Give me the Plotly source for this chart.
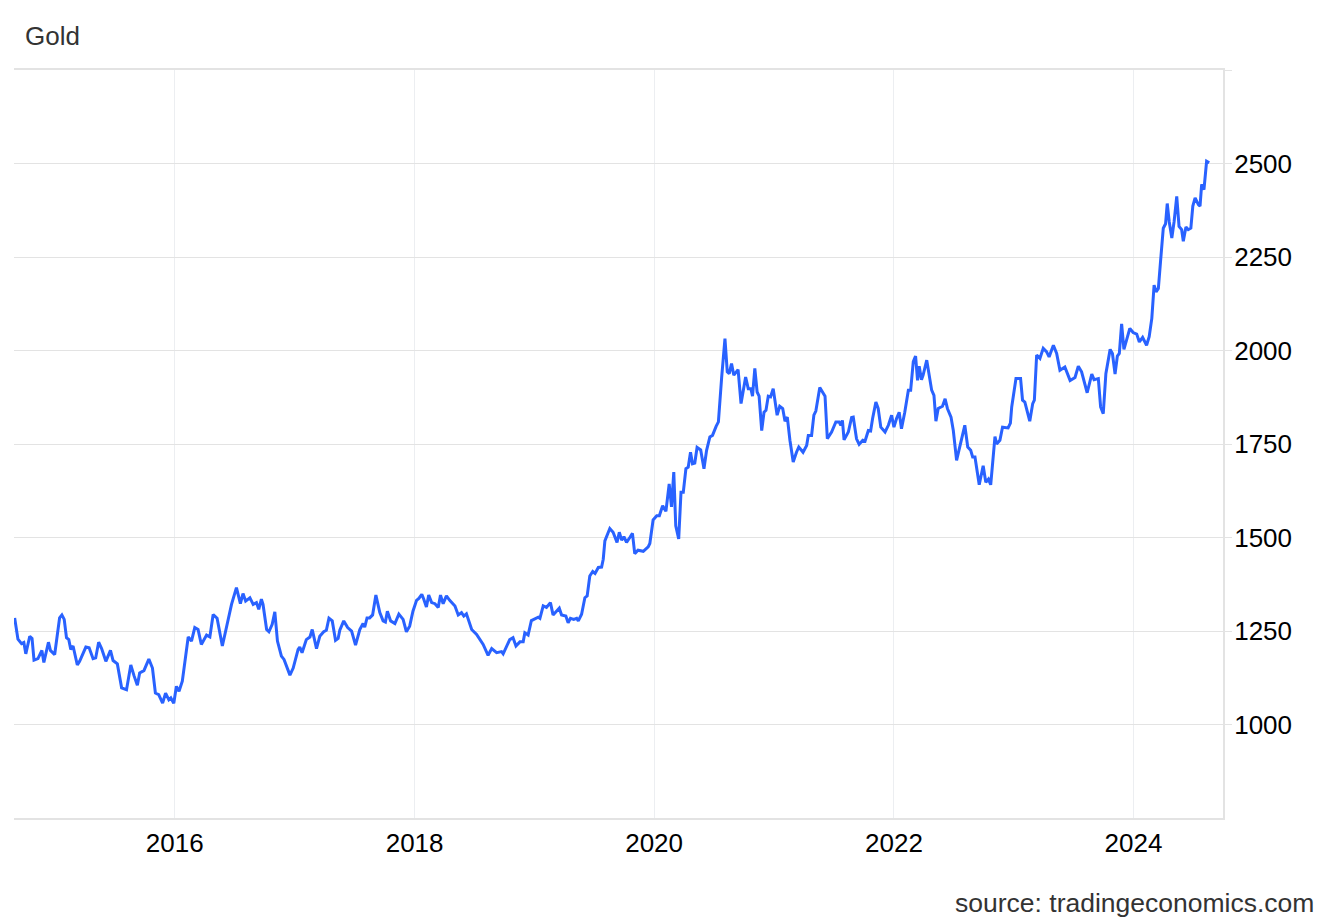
import plotly.graph_objects as go

dates = [
    "2014-08-31", "2014-09-10", "2014-09-21", "2014-09-28", "2014-10-04", "2014-10-16", "2014-10-23", "2014-10-29",
    "2014-11-10", "2014-11-22", "2014-11-28", "2014-12-12", "2014-12-18", "2014-12-31",
    "2015-01-15", "2015-01-22", "2015-01-29", "2015-02-05", "2015-02-12", "2015-02-18", "2015-02-25", "2015-03-10",
    "2015-03-17", "2015-04-05", "2015-04-15", "2015-04-27", "2015-05-05", "2015-05-14", "2015-05-23", "2015-06-05",
    "2015-06-19", "2015-06-27", "2015-07-10", "2015-07-23", "2015-08-07", "2015-08-20", "2015-08-30", "2015-09-09",
    "2015-09-16", "2015-09-29", "2015-10-14", "2015-10-25", "2015-11-03", "2015-11-13", "2015-11-25", "2015-12-04",
    "2015-12-14", "2015-12-20", "2015-12-29",
    "2016-01-06", "2016-01-14", "2016-01-24", "2016-02-11", "2016-02-21", "2016-03-02", "2016-03-12", "2016-03-22",
    "2016-04-07", "2016-04-17", "2016-04-27", "2016-05-09", "2016-05-25", "2016-06-22", "2016-07-07", "2016-07-19",
    "2016-07-27", "2016-08-04", "2016-08-17", "2016-08-27", "2016-09-06", "2016-09-13", "2016-09-21", "2016-09-26",
    "2016-10-07", "2016-10-14", "2016-10-24", "2016-11-01", "2016-11-09", "2016-11-21", "2016-11-29", "2016-12-17",
    "2016-12-27",
    "2017-01-11", "2017-01-16", "2017-01-23", "2017-02-05", "2017-02-16", "2017-02-23", "2017-03-08", "2017-03-18",
    "2017-03-30", "2017-04-07", "2017-04-15", "2017-04-25", "2017-05-05", "2017-05-13", "2017-05-18", "2017-05-30",
    "2017-06-11", "2017-06-23", "2017-07-05", "2017-07-18", "2017-07-28", "2017-08-02", "2017-08-09", "2017-08-17",
    "2017-08-26", "2017-09-05", "2017-09-17", "2017-09-27", "2017-10-04", "2017-10-10", "2017-10-20", "2017-11-02",
    "2017-11-14", "2017-11-27", "2017-12-07", "2017-12-17", "2017-12-27",
    "2018-01-07", "2018-01-14", "2018-01-23", "2018-01-29", "2018-02-06", "2018-02-13", "2018-02-22", "2018-03-04",
    "2018-03-14", "2018-03-21", "2018-03-29", "2018-04-08", "2018-04-18", "2018-05-04", "2018-05-14", "2018-05-24",
    "2018-05-31", "2018-06-08", "2018-06-24", "2018-07-09", "2018-07-29", "2018-08-13", "2018-08-24", "2018-09-08",
    "2018-09-23", "2018-09-28", "2018-10-18", "2018-10-28", "2018-11-06", "2018-11-18", "2018-11-28", "2018-12-03",
    "2018-12-13", "2018-12-23",
    "2019-01-13", "2019-01-18", "2019-01-28", "2019-02-07", "2019-02-19", "2019-02-27", "2019-03-18", "2019-03-25",
    "2019-04-07", "2019-04-14", "2019-04-21", "2019-05-01", "2019-05-10", "2019-05-15", "2019-05-25", "2019-06-04",
    "2019-06-11", "2019-06-19", "2019-06-28", "2019-07-05", "2019-07-15", "2019-07-25", "2019-07-30", "2019-08-04",
    "2019-08-19", "2019-08-29", "2019-09-10", "2019-09-17", "2019-09-24", "2019-10-01", "2019-10-09", "2019-10-19",
    "2019-10-27", "2019-11-03", "2019-11-13", "2019-11-29", "2019-12-14", "2019-12-19", "2019-12-29",
    "2020-01-09", "2020-01-17", "2020-01-27", "2020-02-06", "2020-02-16", "2020-02-23", "2020-03-01", "2020-03-07",
    "2020-03-16", "2020-03-23", "2020-03-30", "2020-04-07", "2020-04-14", "2020-04-21", "2020-04-27", "2020-05-04",
    "2020-05-11", "2020-05-22", "2020-06-01", "2020-06-09", "2020-06-19", "2020-06-27", "2020-07-08", "2020-07-15",
    "2020-07-25", "2020-08-04", "2020-08-11", "2020-08-17", "2020-08-24", "2020-08-31", "2020-09-13", "2020-09-22",
    "2020-10-06", "2020-10-14", "2020-10-22", "2020-10-27", "2020-11-03", "2020-11-10", "2020-11-16", "2020-11-24",
    "2020-12-01", "2020-12-07", "2020-12-14", "2020-12-21", "2020-12-29",
    "2021-01-10", "2021-01-18", "2021-01-27", "2021-02-03", "2021-02-10", "2021-02-18", "2021-02-28", "2021-03-10",
    "2021-03-17", "2021-03-30", "2021-04-10", "2021-04-15", "2021-04-25", "2021-05-02", "2021-05-08", "2021-05-20",
    "2021-06-05", "2021-06-12", "2021-06-25", "2021-07-08", "2021-07-18", "2021-07-23", "2021-07-28", "2021-08-02",
    "2021-08-15", "2021-08-25", "2021-08-30", "2021-09-09", "2021-09-17", "2021-09-28", "2021-10-05", "2021-10-15",
    "2021-10-22", "2021-10-28", "2021-11-07", "2021-11-14", "2021-11-22", "2021-12-05", "2021-12-15", "2021-12-25",
    "2022-01-01", "2022-01-09", "2022-01-17", "2022-01-24", "2022-02-03", "2022-02-14", "2022-02-21", "2022-03-01",
    "2022-03-08", "2022-03-14", "2022-03-19", "2022-03-26", "2022-03-31", "2022-04-11", "2022-04-21", "2022-04-26",
    "2022-05-03", "2022-05-09", "2022-05-16", "2022-05-29", "2022-06-06", "2022-06-13", "2022-06-24", "2022-07-01",
    "2022-07-11", "2022-07-21", "2022-07-29", "2022-08-05", "2022-08-14", "2022-08-23", "2022-08-29", "2022-09-05",
    "2022-09-18", "2022-09-30", "2022-10-08", "2022-10-16", "2022-10-23", "2022-11-05", "2022-11-10", "2022-11-20",
    "2022-11-28", "2022-12-05", "2022-12-15", "2022-12-22", "2022-12-26",
    "2023-01-08", "2023-01-22", "2023-01-28", "2023-02-04", "2023-02-19", "2023-02-28", "2023-03-05", "2023-03-12",
    "2023-03-22", "2023-04-01", "2023-04-11", "2023-04-19", "2023-05-02", "2023-05-12", "2023-05-22", "2023-06-06",
    "2023-06-22", "2023-07-07", "2023-07-17", "2023-07-27", "2023-08-13", "2023-08-27", "2023-09-03", "2023-09-16",
    "2023-09-23", "2023-10-01", "2023-10-09", "2023-10-22", "2023-10-29", "2023-11-06", "2023-11-13", "2023-11-19",
    "2023-11-26", "2023-12-03", "2023-12-11", "2023-12-21", "2023-12-31",
    "2024-01-11", "2024-01-19", "2024-01-29", "2024-02-10", "2024-02-18", "2024-02-26", "2024-03-04", "2024-03-10",
    "2024-03-17", "2024-03-24", "2024-04-01", "2024-04-08", "2024-04-13", "2024-04-19", "2024-04-27", "2024-05-04",
    "2024-05-12", "2024-05-19", "2024-05-27", "2024-06-01", "2024-06-09", "2024-06-16", "2024-06-24", "2024-06-30",
    "2024-07-07", "2024-07-17", "2024-07-22", "2024-07-27", "2024-08-03", "2024-08-11", "2024-08-19",
]

gold_price = [
    1285, 1228, 1216, 1219, 1189, 1236, 1230, 1172,
    1176, 1198, 1166, 1220, 1198, 1187,
    1285, 1293, 1281, 1232, 1227, 1201, 1210, 1159,
    1169, 1207, 1205, 1176, 1178, 1220, 1203, 1169,
    1198, 1171, 1162, 1098, 1093, 1159, 1130, 1105,
    1138, 1144, 1175, 1151, 1084, 1080, 1057, 1084,
    1066, 1071, 1057,
    1102, 1089, 1116, 1234, 1223, 1259, 1254, 1214,
    1239, 1234, 1294, 1284, 1210, 1321, 1366, 1323,
    1350, 1330, 1339, 1321, 1326, 1308, 1335, 1321,
    1254, 1248, 1268, 1301, 1223, 1183, 1174, 1132,
    1151,
    1201, 1207, 1192, 1227, 1234, 1254, 1203, 1236,
    1248, 1252, 1284, 1277, 1225, 1230, 1252, 1277,
    1259, 1250, 1212, 1254, 1270, 1260, 1285, 1285,
    1293, 1346, 1299, 1277, 1274, 1303, 1277, 1270,
    1295, 1281, 1248, 1263, 1303,
    1332, 1337, 1348, 1335, 1314, 1346, 1326, 1323,
    1313, 1346, 1323, 1344, 1332, 1317, 1293, 1299,
    1290, 1296, 1254, 1241, 1214, 1185, 1203, 1192,
    1195, 1189, 1227, 1232, 1210, 1221, 1221, 1245,
    1239, 1278,
    1287, 1284, 1317, 1313, 1326, 1293, 1311, 1293,
    1290, 1272, 1284, 1281, 1284, 1277, 1295, 1339,
    1344, 1397, 1409, 1404, 1420, 1421, 1442, 1491,
    1524, 1514, 1487, 1514, 1493, 1502, 1487, 1500,
    1511, 1457, 1466, 1463, 1475, 1484, 1547,
    1558, 1558, 1585, 1570, 1643, 1582, 1675, 1531,
    1496, 1621, 1621, 1684, 1688, 1728, 1697, 1699,
    1741, 1734, 1684, 1733, 1769, 1773, 1797, 1809,
    1929, 2032, 1943, 1938, 1965, 1934, 1949, 1858,
    1929, 1898, 1898, 1878, 1952, 1889, 1878, 1786,
    1835, 1840, 1878, 1876, 1898,
    1827, 1851, 1845, 1811, 1822, 1760, 1702, 1728,
    1742, 1728, 1746, 1773, 1773, 1827, 1838, 1901,
    1878, 1764, 1782, 1809, 1809, 1800, 1813, 1761,
    1782, 1821, 1822, 1764, 1749, 1760, 1758, 1786,
    1785, 1818, 1862, 1845, 1795, 1782, 1800, 1827,
    1795, 1818, 1835, 1791, 1835, 1894, 1894, 1970,
    1985, 1920, 1958, 1922, 1934, 1974, 1925, 1894,
    1880, 1811, 1845, 1851, 1871, 1845, 1822, 1786,
    1706, 1742, 1770, 1800, 1742, 1733, 1715, 1715,
    1641, 1692, 1648, 1656, 1641, 1770, 1750, 1760,
    1795, 1795, 1793, 1806, 1849,
    1925, 1925, 1867, 1862, 1811, 1858, 1867, 1988,
    1979, 2006, 1997, 1983, 2014, 1992, 1947, 1956,
    1920, 1928, 1958, 1943, 1887, 1937, 1922, 1925,
    1849, 1831, 1938, 2003, 1992, 1937, 1985, 1992,
    2071, 2003, 2028, 2059, 2048,
    2044, 2023, 2035, 2014, 2037, 2086, 2175, 2157,
    2166, 2242, 2327, 2339, 2393, 2345, 2301, 2345,
    2412, 2332, 2323, 2292, 2330, 2323, 2327, 2386,
    2408, 2390, 2386, 2444, 2430, 2506, 2502,
]

y_ticks = [1000, 1250, 1500, 1750, 2000, 2250, 2500, 2750]
y_ticktext = ["1000", "1250", "1500", "1750", "2000", "2250", "2500", ""]
x_ticks = ["2016-01-01", "2018-01-01", "2020-01-01", "2022-01-01", "2024-01-01"]
x_ticktext = ["2016", "2018", "2020", "2022", "2024"]

FONT = "Liberation Sans, Arial, sans-serif"
GRID = "#e3e3e3"
VGRID = "#eceef1"

# the page body adds an 8px offset; the figure is sized to fit inside it
W, H = 1324, 916

fig = go.Figure()
fig.add_trace(go.Scatter(
    x=dates, y=gold_price, mode="lines",
    line=dict(color="#2962FF", width=3),
    hoverinfo="skip", showlegend=False,
))

fig.update_layout(
    width=W, height=H,
    margin=dict(l=6, r=109, t=62, b=106, pad=0),
    paper_bgcolor="white", plot_bgcolor="white",
    font=dict(family=FONT, size=26, color="#000"),
    title=dict(text="Gold", x=17 / W, xanchor="left", xref="container",
               y=1 - 28 / H, yanchor="middle", yref="container",
               font=dict(family=FONT, size=26, color="#333")),
    showlegend=False,
)

fig.update_xaxes(
    type="date",
    range=["2014-08-29", "2024-09-30"],
    tickvals=x_ticks, ticktext=x_ticktext,
    showgrid=True, gridcolor=VGRID, gridwidth=1,
    showline=True, linecolor=GRID, linewidth=2, mirror=True,
    ticks="", ticklabelstandoff=1,
    tickfont=dict(family=FONT, size=26, color="#000"),
    zeroline=False, fixedrange=True,
)
fig.update_yaxes(
    side="right",
    range=[750, 2750],
    tickvals=y_ticks, ticktext=y_ticktext,
    showgrid=True, gridcolor=GRID, gridwidth=1,
    showline=True, linecolor=GRID, linewidth=2,
    ticks="outside", ticklen=7, tickcolor=GRID, tickwidth=1,
    ticklabelstandoff=-3,
    tickfont=dict(family=FONT, size=26, color="#000"),
    zeroline=False, fixedrange=True,
)

fig.add_annotation(
    text="source: tradingeconomics.com",
    xref="paper", yref="paper",
    x=(1308 - 6) / (W - 6 - 109), y=(810 - 895) / (H - 62 - 106),
    xanchor="right", yanchor="middle", showarrow=False,
    font=dict(family=FONT, size=26.5, color="#333"),
)

fig.write_html("out.html")
